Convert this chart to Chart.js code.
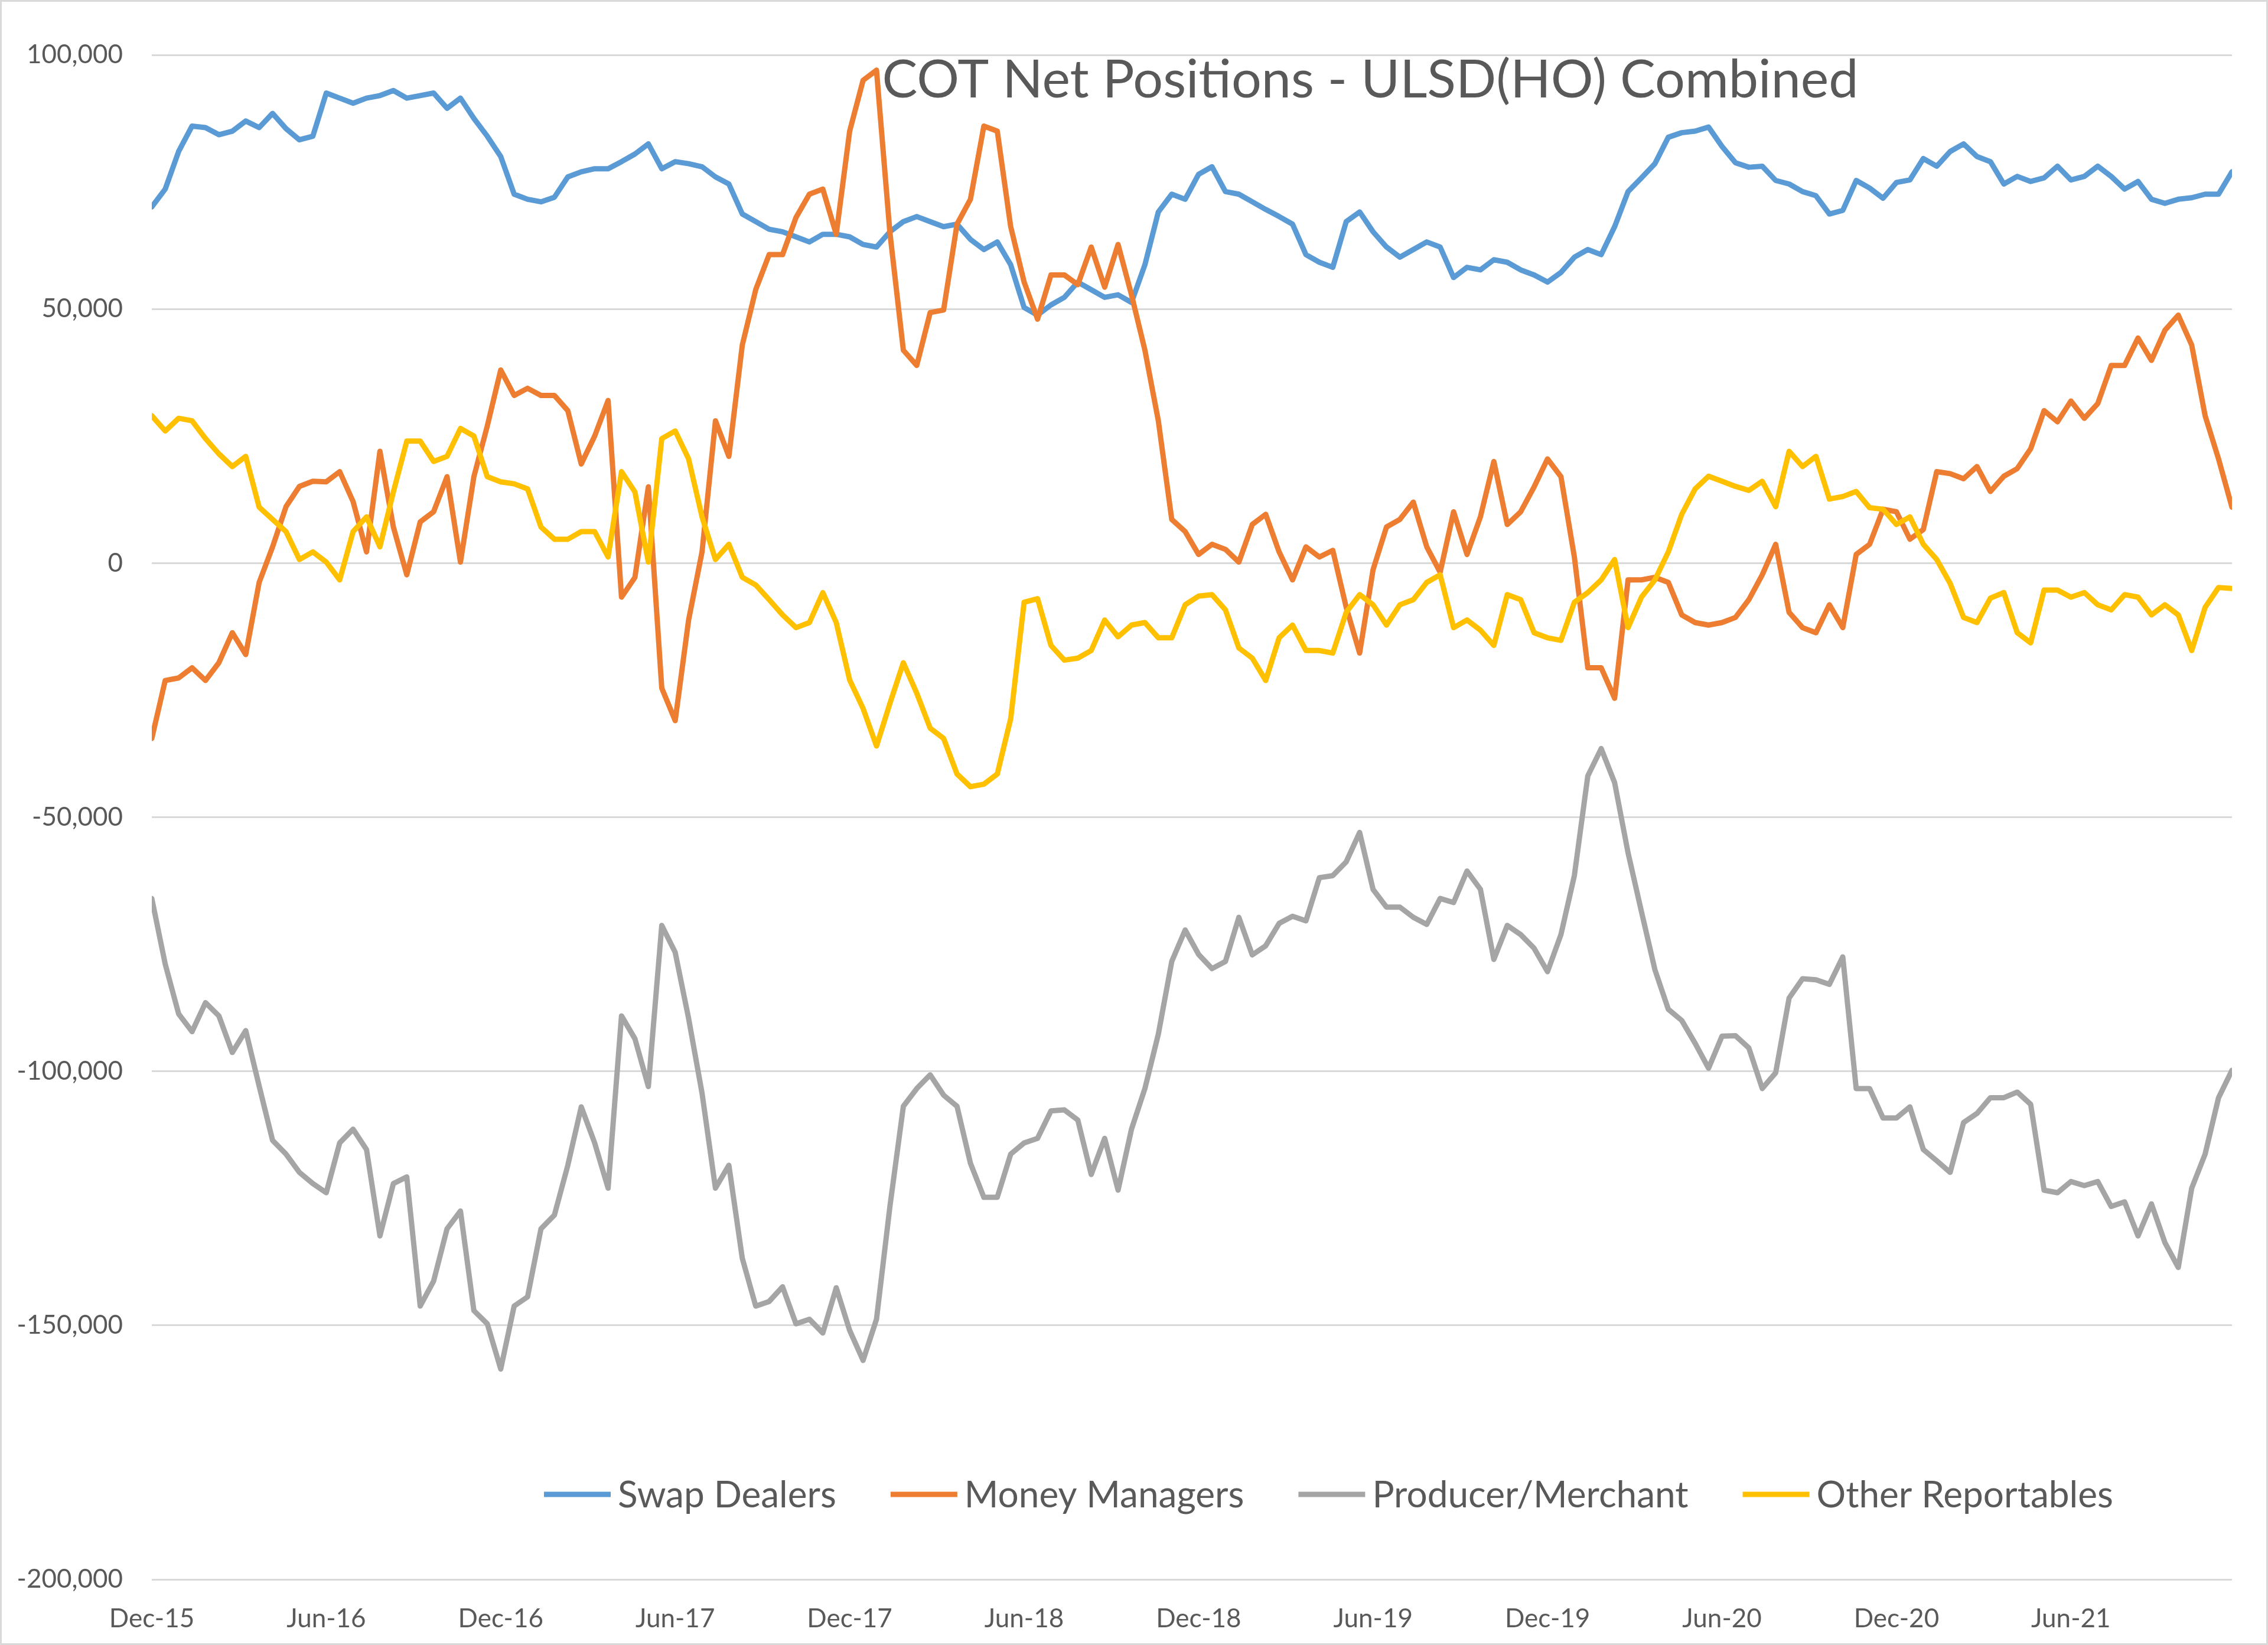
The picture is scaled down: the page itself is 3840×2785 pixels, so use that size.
<!DOCTYPE html>
<html>
<head>
<meta charset="utf-8">
<title>COT Net Positions - ULSD(HO) Combined</title>
<script src="https://cdn.jsdelivr.net/npm/chart.js@4.4.1/dist/chart.umd.min.js"></script>
<style>
  html, body { margin: 0; padding: 0; background: #fff; }
  #wrap { width: 3840px; height: 2785px; }
</style>
</head>
<body>
<div id="wrap"><canvas id="cotChart" width="3840" height="2785"></canvas></div>
<script>
const chartTitle = 'COT Net Positions - ULSD(HO) Combined';

// x axis labels, one every 26 weeks (13 two-week steps)
const tickLabels = ['Dec-15', 'Jun-16', 'Dec-16', 'Jun-17', 'Dec-17', 'Jun-18',
  'Dec-18', 'Jun-19', 'Dec-19', 'Jun-20', 'Dec-20', 'Jun-21'];
const stepsPerTick = 13;

const seriesNames = ['Swap Dealers', 'Money Managers', 'Producer/Merchant', 'Other Reportables'];
const seriesColors = ['#5B9BD5', '#ED7D31', '#A5A5A5', '#FFC000'];

// net positions, read every two weeks from Dec-15
const swapDealers = [
  70100, 73600, 81000, 86000, 85700, 84300, 85000, 87000, 85700, 88500,
  85500, 83300, 84000, 92500, 91500, 90500, 91500, 92000, 93000, 91500,
  92000, 92500, 89500, 91500, 87500, 84000, 80000, 72600, 71600, 71100,
  72000, 76000, 77000, 77600, 77600, 79000, 80500, 82500, 77600, 79000,
  78600, 78000, 76000, 74600, 68700, 67200, 65700, 65200, 64200, 63200,
  64700, 64700, 64200, 62700, 62200, 65200, 67200, 68200, 67200, 66200,
  66700, 63700, 61700, 63200, 58700, 50300, 48800, 50800, 52300, 55300,
  53800, 52300, 52800, 51300, 58700, 69100, 72600, 71600, 76500, 78000,
  73100, 72600, 71100, 69600, 68200, 66700, 60700, 59200, 58200, 67200,
  69100, 65200, 62200, 60200, 61700, 63200, 62200, 56200, 58200, 57700,
  59700, 59200, 57700, 56700, 55300, 57200, 60200, 61700, 60700, 66200,
  73100, 75800, 78600, 83800, 84700, 85000, 85800, 82000, 78800, 77900,
  78100, 75300, 74600, 73100, 72300, 68700, 69400, 75300, 73800, 71800,
  74900, 75400, 79600, 78100, 81000, 82500, 80000, 79000, 74600, 76100,
  75100, 75800, 78100, 75400, 76100, 78100, 76100, 73600, 75100, 71600,
  70800, 71600, 71900, 72600, 72600, 77000
];

const moneyManagers = [
  -34500, -23100, -22600, -20600, -23100, -19600, -13700, -18000, -3800, 3200,
  11100, 15100, 16100, 16000, 18000, 12100, 2200, 22000, 7100, -2300,
  8100, 10100, 17000, 200, 17000, 27000, 38000, 33000, 34400, 33000,
  33000, 30000, 19500, 25000, 32000, -6700, -2800, 15000, -24600, -31000,
  -11200, 2200, 28000, 21000, 42900, 53800, 60700, 60700, 68000, 72600,
  73600, 64700, 85000, 95000, 97000, 65000, 41900, 38900, 49300, 49800,
  66700, 71600, 86000, 85000, 66200, 55300, 48000, 56700, 56700, 54800,
  62200, 54300, 62700, 52800, 41900, 28000, 8600, 6200, 1700, 3700,
  2700, 200, 7600, 9600, 2200, -3300, 3200, 1200, 2500, -8700,
  -17700, -1300, 7100, 8600, 12000, 3200, -1800, 10100, 1700, 9100,
  20000, 7600, 10100, 15000, 20500, 17000, 1200, -20600, -20600, -26600,
  -3300, -3300, -2800, -3800, -10200, -11700, -12200, -11700, -10700, -7200,
  -2300, 3700, -9700, -12700, -13700, -8200, -12700, 1700, 3700, 10600,
  10100, 4700, 6600, 18000, 17600, 16600, 19000, 14100, 17100, 18600,
  22500, 30000, 27800, 31900, 28500, 31400, 38900, 38900, 44300, 39900,
  45800, 48800, 42900, 29000, 20500, 11000
];

const producerMerchant = [
  -66000, -78900, -88700, -92200, -86500, -89100, -96300, -92000, -102900, -113600,
  -116300, -119900, -122100, -123900, -114100, -111400, -115400, -132400, -122100, -120800,
  -146200, -141300, -131000, -127500, -147100, -149700, -158600, -146200, -144400, -131000,
  -128300, -118500, -107000, -114100, -123000, -89100, -93600, -103000, -71300, -76600,
  -89600, -104300, -123000, -118500, -136800, -146200, -145300, -142400, -149700, -148800,
  -151500, -142600, -151000, -156900, -148800, -126600, -106900, -103400, -100700, -104700,
  -106900, -118100, -124800, -124800, -116300, -114100, -113200, -107800, -107600, -109600,
  -120300, -113200, -123400, -111400, -103400, -92700, -78400, -72200, -77000, -79800,
  -78400, -69700, -77100, -75300, -70900, -69500, -70400, -61900, -61500, -58800,
  -53000, -64200, -67700, -67700, -69700, -71100, -66000, -66800, -60600, -64200,
  -78000, -71300, -73100, -75800, -80400, -73100, -61500, -41900, -36500, -43200,
  -57000, -68600, -80000, -87800, -90000, -94500, -99400, -93100, -93000, -95400,
  -103400, -100300, -85600, -81800, -82000, -82900, -77500, -103400, -103400, -109200,
  -109200, -107000, -115400, -117600, -119900, -110100, -108300, -105200, -105200, -104100,
  -106500, -123400, -123900, -121700, -122500, -121700, -126600, -125700, -132400, -126100,
  -133700, -138600, -123000, -116300, -105200, -99800
];

const otherReportables = [
  29000, 26000, 28500, 28000, 24500, 21500, 19000, 21000, 11000, 8600,
  6200, 700, 2200, 200, -3300, 6200, 9100, 3200, 14000, 24000,
  24000, 20000, 21000, 26500, 25000, 17000, 16000, 15600, 14600, 7100,
  4700, 4700, 6200, 6200, 1200, 18000, 14000, 200, 24500, 26000,
  20500, 9100, 700, 3700, -2800, -4300, -7200, -10200, -12700, -11700,
  -5800, -11700, -23000, -28600, -36000, -27600, -19600, -25600, -32500, -34500,
  -41500, -44000, -43500, -41500, -30600, -7700, -7000, -16200, -19100, -18700,
  -17200, -11200, -14500, -12200, -11700, -14700, -14700, -8200, -6500, -6200,
  -9200, -16700, -18700, -23100, -14700, -12200, -17200, -17200, -17700, -9700,
  -6200, -8200, -12200, -8200, -7200, -3800, -2300, -12700, -11200, -13200,
  -16200, -6200, -7200, -13700, -14700, -15200, -7700, -5800, -3300, 700,
  -12700, -6700, -3300, 2200, 9600, 14600, 17100, 16100, 15100, 14300,
  16100, 11100, 22000, 19000, 21000, 12600, 13100, 14100, 10900, 10600,
  7600, 9100, 3700, 700, -4000, -10700, -11700, -6900, -5800, -13700,
  -15700, -5300, -5300, -6700, -5800, -8200, -9200, -6200, -6700, -10200,
  -8200, -10200, -17200, -8700, -4800, -5000
];

const seriesValues = [swapDealers, moneyManagers, producerMerchant, otherReportables];

const textColor = '#595959';
const gridColor = '#D9D9D9';
const fontFamily = 'Lato, "Open Sans", sans-serif';
const lineWidth = 9;

// Excel look: white background and a thin frame round the chart
const framePlugin = {
  id: 'frame',
  beforeDraw(chart) {
    const ctx = chart.ctx;
    ctx.save();
    ctx.fillStyle = '#fff';
    ctx.fillRect(0, 0, chart.width, chart.height);
    ctx.strokeStyle = gridColor;
    ctx.lineWidth = 3;
    ctx.strokeRect(1.5, 1.5, chart.width - 3, chart.height - 3);
    ctx.restore();
  }
};

// title sits inside the plot, upper right of centre
const titlePlugin = {
  id: 'insideTitle',
  afterDraw(chart) {
    const ctx = chart.ctx;
    ctx.save();
    ctx.font = '100px ' + fontFamily;
    const size = 100 * 1653 / ctx.measureText(chartTitle).width;
    ctx.font = size + 'px ' + fontFamily;
    ctx.fillStyle = textColor;
    ctx.textAlign = 'center';
    ctx.textBaseline = 'alphabetic';
    ctx.fillText(chartTitle, 2320, 165);
    ctx.restore();
  }
};

// legend drawn inside the plot, between -150,000 and -200,000
const legendPlugin = {
  id: 'insideLegend',
  afterDraw(chart) {
    const ctx = chart.ctx;
    const lineLen = 113, textGap = 12, itemGap = 92, y = 2530;
    ctx.save();
    ctx.font = '100px ' + fontFamily;
    const sum = seriesNames.reduce((s, n) => s + ctx.measureText(n).width, 0);
    const size = 100 * 1881 / sum;
    ctx.font = size + 'px ' + fontFamily;
    ctx.textBaseline = 'middle';
    ctx.textAlign = 'left';
    let x = 921;
    seriesNames.forEach((name, i) => {
      ctx.strokeStyle = seriesColors[i];
      ctx.lineWidth = lineWidth;
      ctx.lineCap = 'butt';
      ctx.beginPath();
      ctx.moveTo(x, y);
      ctx.lineTo(x + lineLen, y);
      ctx.stroke();
      x += lineLen + textGap;
      ctx.fillStyle = textColor;
      ctx.fillText(name, x, y + 2);
      x += ctx.measureText(name).width + itemGap;
    });
    ctx.restore();
  }
};

const datasets = seriesNames.map((name, i) => ({
  label: name,
  data: seriesValues[i].map((v, k) => ({ x: k, y: v })),
  borderColor: seriesColors[i],
  backgroundColor: seriesColors[i],
  borderWidth: lineWidth,
  pointRadius: 0,
  tension: 0,
  borderJoinStyle: 'round',
  borderCapStyle: 'round',
  order: seriesNames.length - i   // later series drawn on top, as in Excel
}));

new Chart(document.getElementById('cotChart'), {
  type: 'line',
  data: { datasets },
  options: {
    responsive: false,
    animation: false,
    devicePixelRatio: 1,
    layout: { padding: { top: 93, right: 61, bottom: 0, left: 0 } },
    plugins: {
      legend: { display: false },
      title: { display: false },
      tooltip: { enabled: false }
    },
    scales: {
      x: {
        type: 'linear',
        min: 0,
        max: swapDealers.length - 1,
        grid: { display: false, drawTicks: false },
        border: { display: false },
        afterBuildTicks(scale) {
          scale.ticks = tickLabels.map((_, i) => ({ value: i * stepsPerTick }));
        },
        afterFit(scale) { scale.height = 111; },
        ticks: {
          autoSkip: false,
          maxRotation: 0,
          padding: 40,
          color: textColor,
          font: { family: fontFamily, size: 44 },
          callback: (value, index) => tickLabels[index]
        }
      },
      y: {
        min: -200000,
        max: 100000,
        grid: { color: gridColor, lineWidth: 3, drawTicks: false },
        border: { display: false },
        afterFit(scale) { scale.width = 257; },
        ticks: {
          stepSize: 50000,
          padding: 49,
          color: textColor,
          font: { family: fontFamily, size: 44 },
          callback: v => v.toLocaleString('en-US')
        }
      }
    }
  },
  plugins: [framePlugin, titlePlugin, legendPlugin]
});
</script>
</body>
</html>
